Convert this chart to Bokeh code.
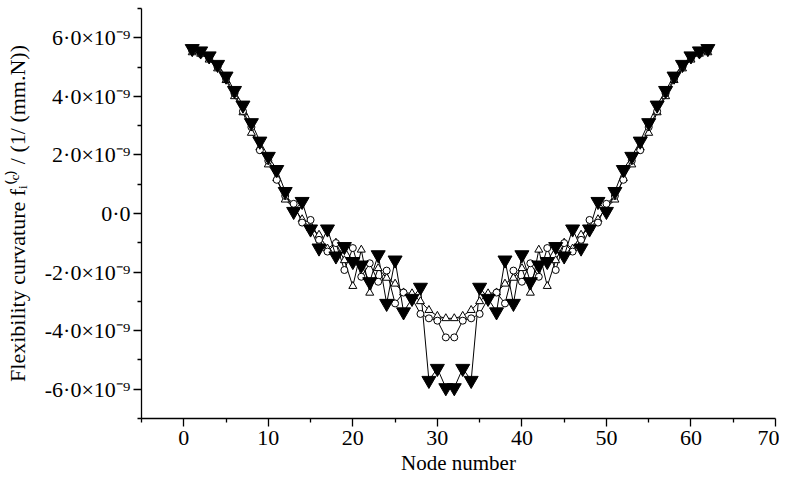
from bokeh.plotting import figure
from bokeh.models import FixedTicker, ColumnDataSource
from bokeh.embed import file_html
from bokeh.resources import INLINE

# Node numbers and values (in units of 1e-9 1/(mm.N))
nodes = list(range(1, 63))

filled_tri = [5.63, 5.55, 5.38, 5.09, 4.69, 4.20, 3.70, 3.10, 2.47, 1.95, 1.50, 0.75, 0.07, 0.41, -0.53,
              -1.18, -0.53, -1.45, -1.13, -1.64, -1.76, -2.33, -1.41, -3.07, -1.59, -3.36, -2.90, -2.52,
              -5.70, -5.29, -5.95,
              -5.95, -5.29, -5.70,
              -2.52, -2.90, -3.36, -1.59, -3.07, -1.41, -2.33, -1.76, -1.64, -1.13, -1.45, -0.53, -1.18,
              -0.53, 0.41, 0.07, 0.75, 1.50, 1.95, 2.47, 3.10, 3.70, 4.20, 4.69, 5.09, 5.38, 5.55, 5.63]

circles = [5.55, 5.45, 5.30, 5.00, 4.60, 4.10, 3.49, 2.95, 2.16, 1.80, 1.15, 0.60, 0.33, -0.31, -0.22,
           -0.90, -1.30, -1.01, -1.93, -1.18, -2.16, -1.70, -2.33, -1.95, -3.07, -2.70, -2.90, -3.43,
           -3.58, -3.66, -4.23,
           -4.23, -3.66, -3.58,
           -3.43, -2.90, -2.70, -3.07, -1.95, -2.33, -1.70, -2.16, -1.18, -1.93, -1.01, -1.30, -0.90,
           -0.22, -0.31, 0.33, 0.60, 1.15, 1.80, 2.16, 2.95, 3.49, 4.10, 4.60, 5.00, 5.30, 5.45, 5.55]

open_tri = [5.50, 5.45, 5.25, 4.95, 4.55, 4.00, 3.45, 2.75, 2.25, 1.67, 1.20, 0.47, 0.20, -0.20, -0.50,
            -0.73, -1.20, -1.00, -1.60, -2.48, -1.24, -2.71, -1.87, -2.20, -2.40, -2.70, -2.73, -3.00,
            -3.30, -3.50, -3.58,
            -3.58, -3.50, -3.30,
            -3.00, -2.73, -2.70, -2.40, -2.20, -1.87, -2.71, -1.24, -2.48, -1.60, -1.00, -1.20, -0.73,
            -0.50, -0.20, 0.20, 0.47, 1.20, 1.67, 2.25, 2.75, 3.45, 4.00, 4.55, 4.95, 5.25, 5.45, 5.50]

x_ticks = [0, 10, 20, 30, 40, 50, 60, 70]
x_minor = [-5, 5, 15, 25, 35, 45, 55, 65]
y_ticks = [-6, -4, -2, 0, 2, 4, 6]
y_minor = [-7, -5, -3, -1, 1, 3, 5, 7]
y_labels = {6: "6·0×10⁻⁹", 4: "4·0×10⁻⁹", 2: "2·0×10⁻⁹", 0: "0·0",
            -2: "-2·0×10⁻⁹", -4: "-4·0×10⁻⁹", -6: "-6·0×10⁻⁹"}

src = ColumnDataSource(dict(x=nodes, f=filled_tri, c=circles, t=open_tri))

p = figure(frame_width=634, frame_height=410, x_range=(-5, 70), y_range=(-7, 7),
           output_backend="svg", toolbar_location=None,
           min_border_left=141, min_border_right=4, min_border_top=8, min_border_bottom=61)
p.outline_line_color = None
p.xgrid.visible = False
p.ygrid.visible = False

FONT = "Liberation Serif"

# lines
p.line("x", "t", source=src, line_color="black", line_width=1)
p.line("x", "c", source=src, line_color="black", line_width=1)
p.line("x", "f", source=src, line_color="black", line_width=1)
# markers
p.scatter("x", "t", source=src, marker="triangle", size=8, line_color="black",
          fill_color="white", line_width=1)
p.scatter("x", "c", source=src, marker="circle", size=7, line_color="black",
          fill_color="white", line_width=1)
p.scatter("x", "f", source=src, marker="inverted_triangle", size=14, line_color="black",
          fill_color="black", line_width=1)

xa = p.xaxis[0]
xa.ticker = FixedTicker(ticks=x_ticks, minor_ticks=x_minor)
xa.axis_label = "Node number"
ya = p.yaxis[0]
ya.ticker = FixedTicker(ticks=y_ticks, minor_ticks=y_minor)
ya.major_label_overrides = y_labels
ya.axis_label = "Flexibility curvature fᵢ⁽ᶜ⁾ / (1/ (mm.N))"

for ax in (xa, ya):
    ax.axis_line_color = "black"
    ax.axis_line_width = 1.3
    ax.major_tick_line_color = "black"
    ax.minor_tick_line_color = "black"
    ax.major_tick_line_width = 1.3
    ax.minor_tick_line_width = 1.3
    ax.major_tick_in = 0
    ax.major_tick_out = 8
    ax.minor_tick_in = 0
    ax.minor_tick_out = 4
    ax.major_label_text_font = FONT
    ax.major_label_text_font_size = "22px"
    ax.major_label_text_color = "black"
    ax.axis_label_text_font = FONT
    ax.axis_label_text_font_style = "normal"
    ax.axis_label_text_color = "black"

xa.axis_label_text_font_size = "21px"
ya.axis_label_text_font_size = "22px"
xa.major_label_standoff = 4
xa.axis_label_standoff = 3
ya.major_label_standoff = 3
ya.axis_label_standoff = 12

open("out.html", "w").write(file_html(p, INLINE))
